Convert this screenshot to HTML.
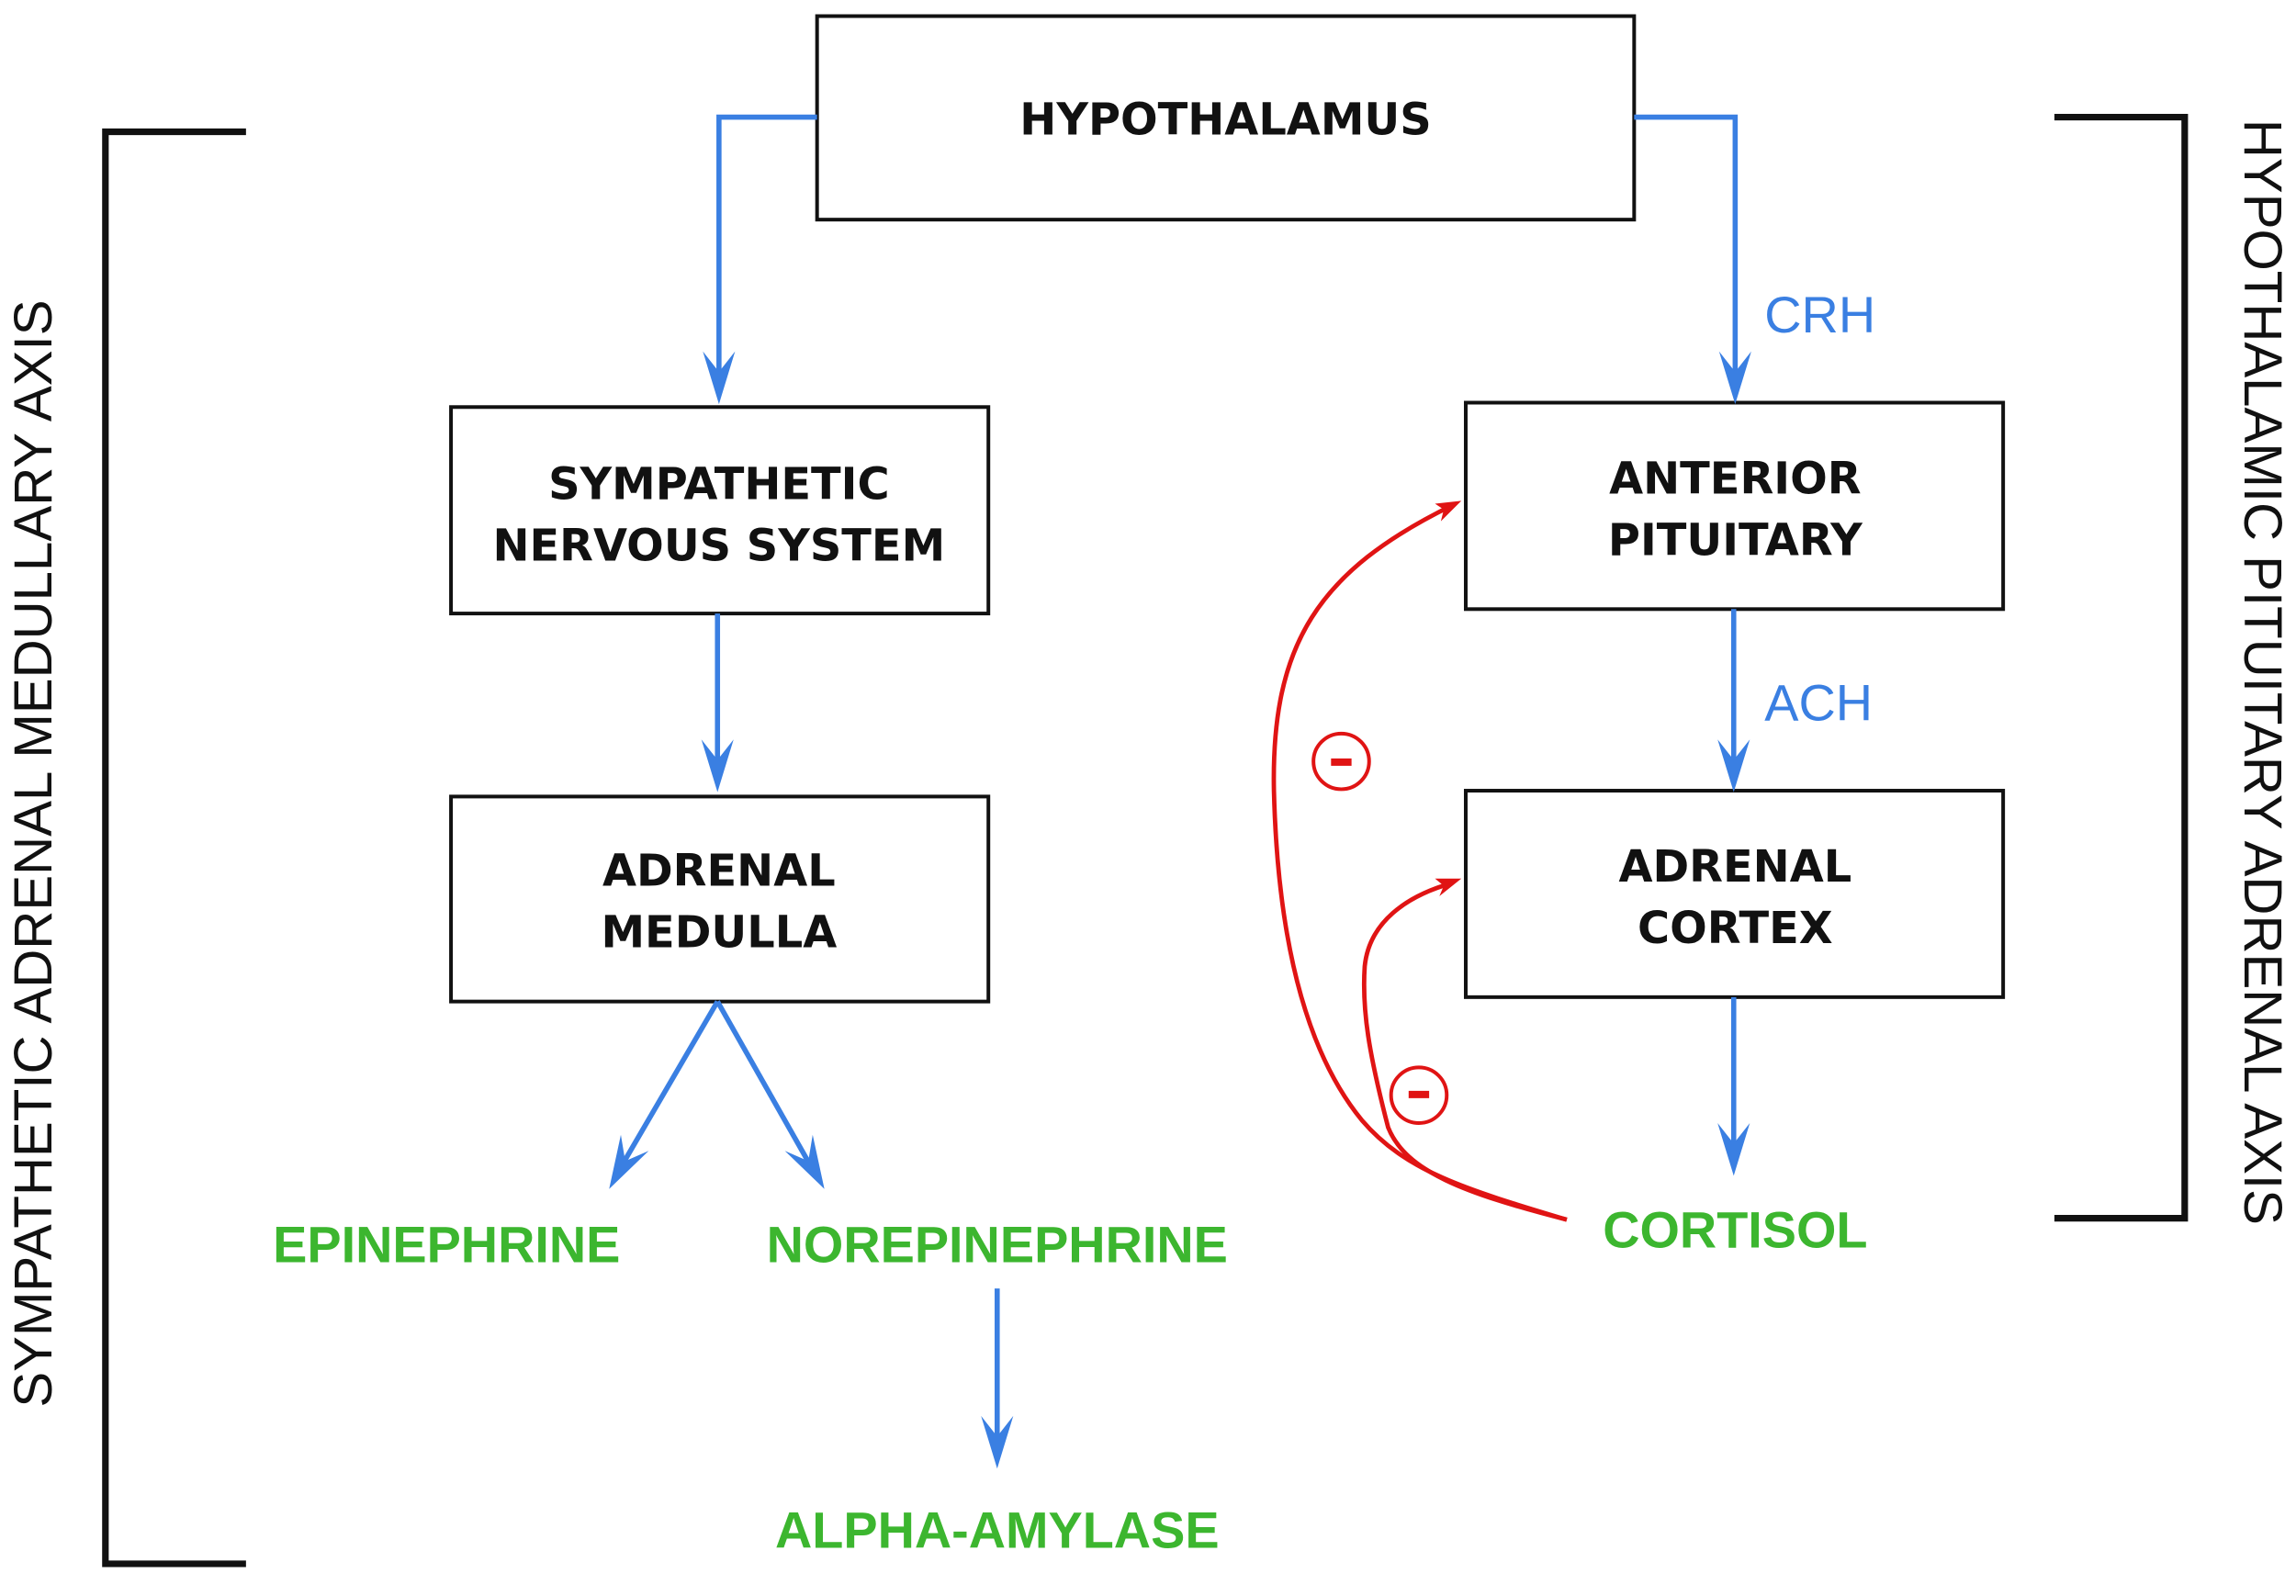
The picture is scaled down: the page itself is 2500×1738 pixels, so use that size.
<!DOCTYPE html>
<html><head><meta charset="utf-8"><style>
html,body{margin:0;padding:0;background:#fff;width:2500px;height:1738px;overflow:hidden}
svg{display:block}
.b{font-family:"DejaVu Sans","Liberation Sans",sans-serif;font-weight:bold;font-size:30px;fill:#111;text-anchor:middle}
.g{font-family:"Liberation Sans",sans-serif;font-weight:bold;font-size:35px;fill:#3cb62f;text-anchor:middle}
.bl{font-family:"Liberation Sans",sans-serif;font-size:35px;fill:#3a7fe2}
.ax{font-family:"Liberation Sans",sans-serif;font-size:36.5px;fill:#111;text-anchor:middle}
</style></head><body>
<svg width="2500" height="1738" viewBox="0 0 1568 1090" preserveAspectRatio="none" xmlns="http://www.w3.org/2000/svg">
<g fill="none" stroke="#111" stroke-width="2.5">
<rect x="558" y="11" width="558" height="139"/>
<rect x="308" y="278" width="367" height="141"/>
<rect x="308" y="544" width="367" height="140"/>
<rect x="1001" y="275" width="367" height="141"/>
<rect x="1001" y="540" width="367" height="141"/>
</g>
<g fill="none" stroke="#111" stroke-width="4.5">
<polyline points="168,90 72,90 72,1068 168,1068"/>
<polyline points="1403,80 1492,80 1492,832 1403,832"/>
</g>
<g fill="none" stroke="#3a7fe2" stroke-width="3.5">
<polyline points="558,80 491,80 491,268"/>
<polyline points="1116,80 1185,80 1185,268"/>
<line x1="490" y1="419" x2="490" y2="534"/>
<line x1="490" y1="684" x2="420" y2="804"/>
<line x1="490" y1="684" x2="558" y2="804"/>
<line x1="681" y1="880" x2="681" y2="996"/>
<line x1="1184" y1="416" x2="1184" y2="534"/>
<line x1="1184" y1="681" x2="1184" y2="796"/>
</g>
<g fill="#3a7fe2">
<path d="M491,276 L480,240 L491,254 L502,240Z"/>
<path d="M1185,276 L1174,240 L1185,254 L1196,240Z"/>
<path d="M490,541 L479,505 L490,519 L501,505Z"/>
<path d="M681,1003 L670,967 L681,981 L692,967Z"/>
<path d="M1184,541 L1173,505 L1184,519 L1195,505Z"/>
<path d="M1184,803 L1173,767 L1184,781 L1195,767Z"/>
<path d="M416,812 L424,775 L427,793 L443,786Z"/>
<path d="M563,812 L536,786 L552,793 L555,775Z"/>
</g>
<g fill="none" stroke="#e01414" stroke-width="3">
<path d="M1070,833 C1000,812 960,800 930,765 C885,710 872,620 870,540 C868,440 900,390 992,345"/>
<path d="M1070,833 C1000,815 960,800 948,770 C935,720 930,690 932,660 C935,630 960,612 992,603"/>
<circle cx="916" cy="520" r="19" stroke-width="2.5"/>
<circle cx="969" cy="748" r="19" stroke-width="2.5"/>
</g>
<g fill="#e01414">
<path d="M998,342 L980,344 L986,348 L984,356Z"/>
<path d="M998,600 L980,600 L986,605 L983,612Z"/>
<rect x="909" y="518" width="14" height="5"/>
<rect x="962" y="745" width="14" height="5"/>
</g>
<text class="b" x="837" y="92">HYPOTHALAMUS</text>
<text class="b" x="491" y="341">SYMPATHETIC</text>
<text class="b" x="491" y="383">NERVOUS SYSTEM</text>
<text class="b" x="491" y="605">ADRENAL</text>
<text class="b" x="491" y="647">MEDULLA</text>
<text class="b" x="1185" y="337">ANTERIOR</text>
<text class="b" x="1185" y="379">PITUITARY</text>
<text class="b" x="1185" y="602">ADRENAL</text>
<text class="b" x="1185" y="644">CORTEX</text>
<text class="bl" x="1205" y="227">CRH</text>
<text class="bl" x="1205" y="492">ACH</text>
<text class="g" x="305" y="862">EPINEPHRINE</text>
<text class="g" x="681" y="862">NOREPINEPHRINE</text>
<text class="g" x="681" y="1057">ALPHA-AMYLASE</text>
<text class="g" x="1185" y="852">CORTISOL</text>
<text class="ax" transform="translate(35,583) rotate(-90)">SYMPATHETIC ADRENAL MEDULLARY AXIS</text>
<text class="ax" transform="translate(1533,459) rotate(90)">HYPOTHALAMIC PITUITARY ADRENAL  AXIS</text>
</svg>
</body></html>
